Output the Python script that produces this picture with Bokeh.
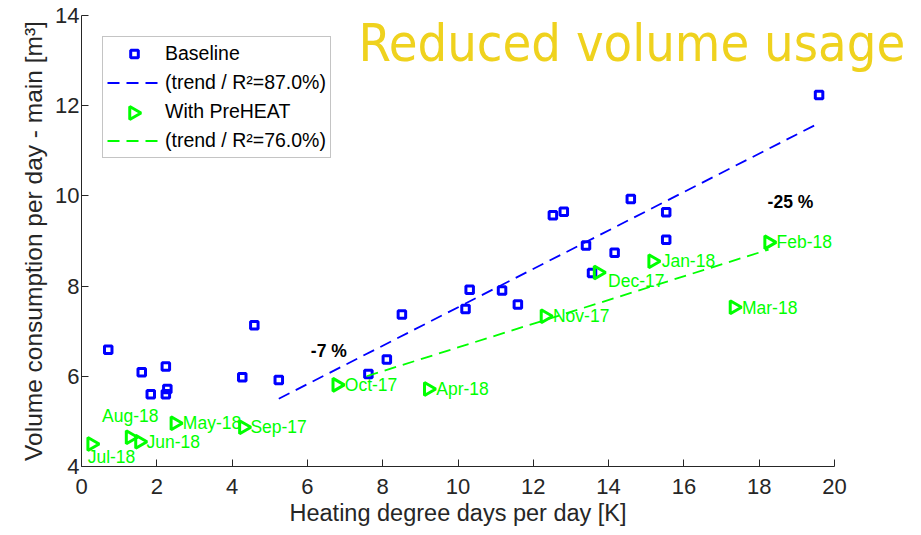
import math
from bokeh.plotting import figure
from bokeh.models import Range1d, Legend, LegendItem, Label, ColumnDataSource, FixedTicker, Title
from bokeh.core.properties import value
from bokeh.embed import file_html
from bokeh.resources import INLINE

# ---------------- data ----------------
base_x = [0.71, 1.60, 1.84, 2.24, 2.24, 2.28, 4.27, 4.59, 5.24, 7.62, 8.11, 8.51, 10.20,
          10.31, 11.17, 11.59, 12.52, 12.81, 13.40, 13.56, 14.16, 14.59, 15.53, 15.53, 19.59]
base_y = [6.59, 6.09, 5.60, 5.60, 6.22, 5.72, 5.98, 7.13, 5.92, 6.05, 6.37, 7.37, 7.49,
          7.92, 7.90, 7.59, 9.57, 9.65, 8.90, 8.29, 8.74, 9.93, 9.64, 9.03, 12.24]

pre_months = ["Jul-18", "Aug-18", "Jun-18", "May-18", "Sep-17", "Oct-17", "Apr-18",
              "Nov-17", "Dec-17", "Jan-18", "Feb-18", "Mar-18"]
pre_x = [0.27, 1.29, 1.54, 2.48, 4.30, 6.78, 9.21, 12.31, 13.72, 15.17, 18.25, 17.33]
pre_y = [4.50, 4.65, 4.55, 4.96, 4.87, 5.81, 5.72, 7.33, 8.30, 8.55, 8.97, 7.53]

base_trend_slope = 0.426
base_trend_intercept = 3.27
base_trend_xrange = [5.24, 19.59]
base_r2 = "87.0%"

pre_trend_slope = 0.263
pre_trend_intercept = 4.01
pre_trend_xrange = [7.57, 18.25]
pre_r2 = "76.0%"

reduction_labels = ["-7 %", "-25 %"]
reduction_x = [6.57, 18.83]
reduction_y = [6.56, 9.86]

x_ticks = [0, 2, 4, 6, 8, 10, 12, 14, 16, 18, 20]
y_ticks = [4, 6, 8, 10, 12, 14]
x_axis_limits = (0, 20)
y_axis_limits = (4, 14)

x_label = "Heating degree days per day [K]"
y_label = "Volume consumption per day - main [m³]"
title_text = "Reduced volume usage"

# ---------------- layout / style ----------------
label_dx = [-4, -28, 7, 8, 7, 8, 8, 8, 10, 9, 8, 8]
label_dy = [13, -21, 0, 0, 0, 0, 0, 0, 8, 0, 0, 1]

W, H = 921, 535
BL, BR, BT, BB = 81, 4, 15, 69
AXIS_LEN_PX = 753                     # drawn length of the 0..20 x axis
FW, FH = W - BL - BR, H - BT - BB
px_per_x = AXIS_LEN_PX / (x_axis_limits[1] - x_axis_limits[0])
XR = (x_axis_limits[0], x_axis_limits[0] + FW / px_per_x)   # frame spans past the axis
YR = y_axis_limits

FONT = "Liberation Sans"
AX_COLOR = "#262626"
BLUE = "#0000FF"
GREEN = "#00FF00"

p = figure(width=W, height=H, x_range=Range1d(*XR), y_range=Range1d(*YR),
           output_backend="svg", toolbar_location=None,
           min_border_left=BL, min_border_right=BR, min_border_top=BT, min_border_bottom=BB)
p.outline_line_color = None
p.grid.visible = False
p.background_fill_color = "white"
p.border_fill_color = "white"

for ax in (p.xaxis[0], p.yaxis[0]):
    ax.axis_line_color = AX_COLOR
    ax.major_tick_line_color = AX_COLOR
    ax.major_tick_in = 7
    ax.major_tick_out = 0
    ax.minor_tick_line_color = None
    ax.major_label_text_font = FONT
    ax.major_label_text_font_size = "22px"
    ax.major_label_text_color = AX_COLOR
    ax.axis_label_text_font = FONT
    ax.axis_label_text_font_size = "24.5px"
    ax.axis_label_text_font_style = "normal"
    ax.axis_label_text_color = AX_COLOR

p.xaxis.bounds = x_axis_limits
p.xaxis.ticker = FixedTicker(ticks=x_ticks)
p.yaxis.ticker = FixedTicker(ticks=y_ticks)
p.yaxis.axis_label = y_label
p.xaxis.major_label_standoff = 12
p.yaxis.major_label_standoff = 2
p.yaxis.axis_label_standoff = 5

# x-axis label, centred under the drawn 0..20 axis
XL_SIZE = 23.5
xl_w_est = 14.34 * XL_SIZE          # Arial-metric width of the label
p.add_layout(Title(text=x_label, align="left",
                   offset=AXIS_LEN_PX / 2 - xl_w_est / 2,
                   text_font=FONT, text_font_size=f"{XL_SIZE}px", text_font_style="normal",
                   text_color=AX_COLOR, standoff=2), "below")

# baseline
r_base = p.scatter(base_x, base_y, marker="square", size=7.5, line_width=3,
                   line_color=BLUE, fill_color=None)
bx = base_trend_xrange
r_btrend = p.line(bx, [base_trend_intercept + base_trend_slope * v for v in bx],
                  line_color=BLUE, line_width=1.8, line_dash="12 7")

# with PreHEAT
r_pre = p.scatter(pre_x, pre_y, marker="triangle", angle=-math.pi / 2, size=13,
                  line_width=3, line_color=GREEN, fill_color=None)
gx = pre_trend_xrange
r_ptrend = p.line(gx, [pre_trend_intercept + pre_trend_slope * v for v in gx],
                  line_color=GREEN, line_width=1.8, line_dash="12 7")

src = ColumnDataSource(dict(x=pre_x, y=pre_y, t=pre_months, dx=label_dx, dy=label_dy))
p.text(x="x", y="y", text="t", x_offset="dx", y_offset="dy", source=src,
       text_font=value(FONT), text_font_size=value("17.5px"), text_color=GREEN,
       text_baseline="middle", text_align="left")

for t, xv, yv in zip(reduction_labels, reduction_x, reduction_y):
    p.add_layout(Label(x=xv, y=yv, text=t, text_font=FONT, text_font_size="17.5px",
                       text_font_style="bold", text_color="black",
                       text_align="center", text_baseline="middle"))

# title-like annotation (screen units: from frame left / frame bottom)
p.add_layout(Label(x=358 - BL, y=FH - (42 - BT), x_units="screen", y_units="screen",
                   text=title_text,
                   text_font="DejaVu Sans Condensed", text_font_size="52px",
                   text_color="#EFD21E", text_align="left", text_baseline="middle"))

# legend
LEG_LEFT, LEG_TOP = 21, 23          # offsets from frame's top-left, px
PAD, SPACING, ROW_H, GLYPH_W = 4, 4, 25, 54
n_rows = 4
leg_h = 2 * PAD + n_rows * ROW_H + (n_rows - 1) * SPACING

r_pre_blank = p.scatter(x=[], y=[], marker="triangle", line_alpha=0, fill_alpha=0)

legend = Legend(items=[
    LegendItem(label="Baseline", renderers=[r_base]),
    LegendItem(label="(trend / R²=" + base_r2 + ")", renderers=[r_btrend]),
    LegendItem(label="With PreHEAT", renderers=[r_pre_blank]),
    LegendItem(label="(trend / R²=" + pre_r2 + ")", renderers=[r_ptrend]),
], location=(LEG_LEFT, FH - LEG_TOP - leg_h))
legend.label_text_font = FONT
legend.label_text_font_size = "19.5px"
legend.label_text_color = "black"
legend.border_line_color = "#8a8a8a"
legend.border_line_width = 1
legend.background_fill_alpha = 0
legend.padding = PAD
legend.spacing = SPACING
legend.margin = 0
legend.glyph_height = 19
legend.glyph_width = GLYPH_W
legend.label_height = ROW_H
legend.label_standoff = 4
p.add_layout(legend)

# right-pointing legend key for "With PreHEAT" (Bokeh legends draw markers unrotated)
key_px = LEG_LEFT + PAD + GLYPH_W / 2
key_py = LEG_TOP + PAD + 2 * (ROW_H + SPACING) + ROW_H / 2
key_x = XR[0] + key_px / px_per_x
key_y = YR[1] - key_py / FH * (YR[1] - YR[0])
p.scatter([key_x], [key_y], marker="triangle", angle=-math.pi / 2, size=13,
          line_width=3, line_color=GREEN, fill_color=None)

open("out.html", "w").write(file_html(p, INLINE))
